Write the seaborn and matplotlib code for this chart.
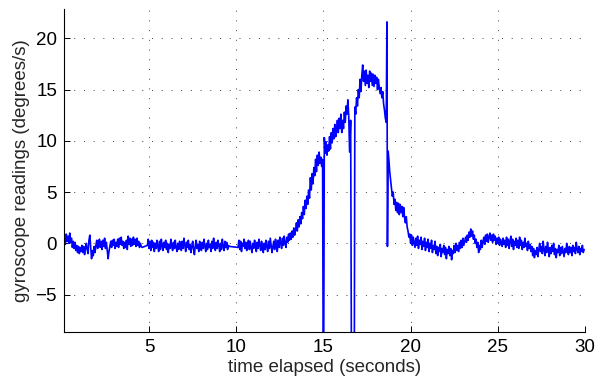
import numpy as np
import pandas as pd
import matplotlib
matplotlib.use("Agg")
import matplotlib.pyplot as plt
import seaborn as sns

# Gyroscope rate samples (degrees/s), stored as contiguous runs sampled every 0.05 s.
SAMPLE_STEP = 0.05

run1_start = 0.15
run1_rate = [0.4, -0.1, 0.9, 0.2, 0.7, 0.0, 1.0, 0.1, 0.5, -0.4,
             0.2, -0.5, 0.1, -0.7, -0.2, -0.9, -0.3, -1.0, -0.4, -0.8,
             -0.2, -0.9, -0.3, -1.1, -0.5, 0.0, -0.6, -1.0, 0.3, 0.8,
             -0.4, -1.5, -0.7, -1.2, -0.3, -0.9, -0.2, 0.3, -0.5, -0.1,
             0.4, -0.4, 0.2, -0.6, 0.3, -0.3, 0.5, -0.5, 0.1, -0.7,
             -1.5, -0.8, -0.3, 0.2, -0.4, 0.3, -0.2, 0.4, -0.5, 0.1,
             -0.3, 0.4, -0.4, 0.5, -0.1, 0.6, -0.2, 0.2, -0.5, 0.1,
             -0.4, 0.3, -0.6, 0.7, -0.1, 0.5, -0.3, 0.4, -0.2, 0.6,
             -0.1, 0.4, -0.3, 0.5, -0.2, 0.2, -0.4, 0.0, -0.3, -0.4]

run2_start = 4.90
run2_rate = [-0.2, 0.4, -0.5, 0.2, -0.7, 0.3, -0.4, 0.1, -0.8, 0.0,
             -0.5, 0.3, -0.3, -0.8, 0.2, -0.6, 0.4, -0.2, -0.7, 0.1,
             -0.4, 0.3, -0.6, 0.0, -0.9, -0.1, -0.5, 0.4, -0.3, -0.7,
             0.1, -0.5, 0.3, -0.4, -0.8, 0.0, -0.6, 0.2, -0.3, -0.7,
             0.2, -0.5, 0.5, -0.2, -0.8, 0.1, -0.4, 0.3, -0.6, -0.1,
             -0.9, -0.3, 0.2, -0.6, -1.1, -0.2, 0.3, -0.5, -0.1, -0.8,
             0.2, -0.4, -0.7, 0.1, -0.5, 0.4, -0.3, -0.8, 0.0, -0.6,
             0.3, -0.4, -0.1, -0.8, 0.2, -0.5, 0.5, -0.3, -0.7, 0.1,
             -0.5, 0.3, -0.2, -0.8, 0.0, -0.6, 0.4, -0.3, -0.7, 0.2,
             -0.4, 0.1, -0.6, -0.2, -0.3]

run3_start = 10.10
run3_rate = [-0.4, 0.3, -0.6, 0.2, -0.8, 0.0, -0.3, 0.4, -0.5, 0.1,
             -0.7, -0.1, 0.3, -0.6, 0.2, -0.4, -0.9, 0.0, -0.5, 0.3,
             -0.3, -0.8, 0.1, -0.5, 0.4, -0.2, -0.7, 0.2, -0.4, -0.9,
             0.0, -0.6, 0.3, -0.3, -0.8, 0.2, -0.5, 0.5, -0.2, -0.9,
             -0.3, 0.2, -0.6, 0.4, -0.1, -0.8, 0.3, -0.4, 0.6, 0.0,
             -0.5, 0.5, -0.2, 0.7, 0.0, -0.4, 0.6, 0.1, 0.9, 0.3,
             1.0, 0.4, 1.2, 0.6, 1.5, 0.8, 1.3, 2.0, 1.2, 2.3,
             1.6, 2.6, 1.9, 3.0, 2.4, 3.6, 2.8, 4.2, 3.4, 4.6,
             3.8, 5.2, 4.4, 6.4, 5.2, 6.8, 5.8, 7.4, 6.6, 8.2,
             7.0, 8.6, 7.6, 8.9, 7.8, 8.4, 7.5, 8.2]

run4_start = 15.05
run4_rate = [10.3, 8.8, 9.9, 8.6, 9.6, 9.0, 10.4, 9.2, 10.8, 9.8,
             11.2, 10.2, 11.6, 10.4, 11.0, 12.0, 10.8, 12.2, 11.2, 12.6,
             10.8, 12.0, 11.2, 12.8, 11.8, 13.4, 12.6, 14.0, 12.4]

run5_start = 16.80
run5_rate = [13.3, 12.6, 14.2, 13.4, 15.0, 14.2, 16.0, 14.8, 16.4, 17.4,
             15.8, 16.8, 15.4, 16.9, 15.6, 16.4, 15.2, 16.8, 15.8, 16.6,
             15.4, 16.5, 15.3, 16.4, 15.6, 16.2, 15.0, 16.0, 15.2, 14.6,
             15.2, 14.2, 14.8, 13.6, 13.0, 12.2]

run6_start = 18.75
run6_rate = [8.2, 7.0, 6.2, 5.3, 4.6, 5.0, 3.8, 4.3, 3.2, 4.0,
             3.0, 3.9, 2.8, 3.8, 3.0, 3.6, 2.6, 3.5, 2.5, 2.0,
             2.6, 1.6, 1.2, 0.6, 0.9, 0.0, 0.8, -0.2, 0.6, 0.1,
             -0.4, 0.5, -0.2, 0.7, -0.5, 0.3, -0.1, 0.6, -0.6, 0.2,
             -0.3, 0.5, -0.7, 0.1, -0.4, 0.4, -0.8, 0.0, -0.5, 0.3,
             -0.9, -0.2, -0.6, 0.2, -1.0, -0.3, -1.2, -0.4, -0.8, -0.1,
             -1.3, -0.5, -0.9, -0.2, -1.1, -0.4, -1.5, -0.6, -1.0, -0.3,
             -1.2, -0.5, -1.6, -0.7, -1.0, -0.2, -0.9, 0.0, -0.7, -0.2,
             -0.8, 0.1, -0.5, 0.3, -0.4, 0.5, -0.2, 0.2, 0.6, 0.1,
             0.8, 0.3, 1.1, 0.6, 1.4, 0.7, 1.2, 0.4, 0.8, 0.0,
             0.4, -0.4, 0.1, -0.9, -0.2, -0.6, 0.3, -0.4, 0.2, 0.6,
             -0.1, 0.8, 0.2, 0.9, 0.1, 0.6, 1.0, 0.3, 0.8, 0.1,
             0.9, 0.3, 0.7, -0.1, 0.5, 0.0, 0.6, -0.2, 0.4, 0.1,
             -0.3, 0.5, -0.1, 0.3, -0.4, 0.6, -0.2, 0.4, -0.5, 0.2,
             0.7, -0.3, 0.4, -0.6, 0.2, -0.2, 0.5, -0.4, 0.3, -0.5,
             0.6, -0.2, 0.3, -0.6, 0.1, -0.4, 0.5, -0.3, 0.0, -0.7,
             0.2, -0.5, -0.1, -0.8, -0.3, -1.2, -0.5, -1.4, -0.7, -1.1,
             -0.4, -1.3, -0.6, 0.0, -0.8, -0.3, -1.0, 0.2, -0.6, -1.2,
             -0.3, -0.9, 0.1, -0.7, -1.3, -0.4, -1.0, -0.2, -0.8, 0.0,
             -1.1, -0.5, -1.4, -0.6, -0.9, -0.2, -1.2, -0.4, -1.0, -0.3,
             -0.8, -1.3, -0.5, -0.9, 0.0, -0.7, -1.1, -0.3, -0.9, -0.4,
             -1.2, -0.2, -0.8, -0.4, -1.0, 0.1, -0.6, -0.9, -0.3, -1.1,
             -0.5, -0.8, -0.2, -0.9, -0.6]

# Isolated glitch samples between the runs
glitch_time = [15.00, 16.50, 16.56, 16.62, 16.76, 18.60, 18.64, 18.67, 18.71]
glitch_rate = [-20.0, 8.9, 12.0, -20.0, -20.0, 11.8, 21.6, -0.3, 9.0]

x_ticks = [5, 10, 15, 20, 25, 30]
y_ticks = [-5, 0, 5, 10, 15, 20]

runs = [(run1_start, run1_rate), (run2_start, run2_rate), (run3_start, run3_rate),
        (run4_start, run4_rate), (run5_start, run5_rate), (run6_start, run6_rate)]
frames = [pd.DataFrame({"t": start + SAMPLE_STEP * np.arange(len(vals)), "rate": vals})
          for start, vals in runs]
frames.append(pd.DataFrame({"t": glitch_time, "rate": glitch_rate}))
df = pd.concat(frames, ignore_index=True).sort_values("t").reset_index(drop=True)

sns.set_style("white")
plt.rcParams["font.family"] = ["Liberation Sans", "DejaVu Sans"]

fig = plt.figure(figsize=(5.99, 3.83), dpi=100)
ax = fig.add_axes([64 / 599, 51 / 383, 521 / 599, 323 / 383])

sns.lineplot(data=df, x="t", y="rate", ax=ax, color="#0000ff", linewidth=1.2,
             estimator=None, sort=False)

ax.set_xlim(0.12, 30)
ax.set_ylim(-8.65, 22.86)
ax.set_xticks(x_ticks)
ax.set_yticks(y_ticks)
ax.set_yticklabels(["\u22125" if v == -5 else str(v) for v in y_ticks])

ax.grid(True, color="0.25", linestyle=(0, (1, 9)), linewidth=0.7)
for side in ("top", "right"):
    ax.spines[side].set_visible(False)
for side in ("left", "bottom"):
    ax.spines[side].set_color("black")
    ax.spines[side].set_linewidth(0.8)

ax.tick_params(direction="in", length=4, width=0.7, colors="black",
               labelsize=13.5, pad=5, left=True, bottom=True)
ax.set_xlabel("time elapsed (seconds)", fontsize=13.5, labelpad=2)
ax.set_ylabel("gyroscope readings (degrees/s)", fontsize=13.5, labelpad=4)

fig.savefig("out.png", dpi=100)
